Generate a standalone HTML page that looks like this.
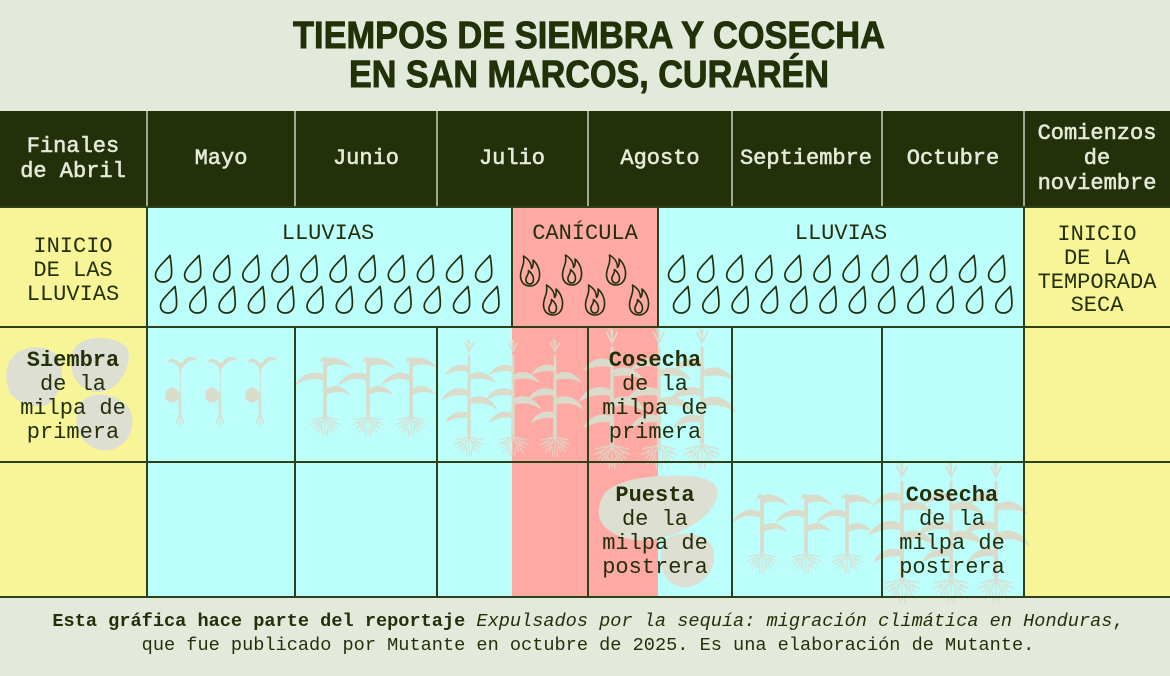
<!DOCTYPE html>
<html><head><meta charset="utf-8"><style>
html,body{margin:0;padding:0;background:#e3eadc;}
svg{display:block;}
</style></head><body>
<svg width="1170" height="676" viewBox="0 0 1170 676" xmlns="http://www.w3.org/2000/svg">
<defs>
  <path id="drop" d="M16,1.5 C10,8 1.5,15 1.5,21 C1.5,25.5 5,28 9,28 C13.5,28 17,25 17.5,20.5 C18,14 17,8 16,1.5 Z" fill="none" stroke="#233009" stroke-width="1.7" stroke-linejoin="round"/>
  <g id="flame" fill="none" stroke="#233009" stroke-width="1.6" stroke-linejoin="round">
    <path d="M10,32 C4,32 0.5,28 0.5,21.5 C0.5,15 5,11 3.5,2 C8.5,5 11.5,9.5 11.5,14.5 C13.5,12.5 13.5,9.5 13,6 C17.5,10 20,16 19.5,22 C19,28 15.5,32 10,32 Z"/>
    <path d="M10,30 C7,30 5.5,27.5 6,24.5 C6.5,21.5 9,20.5 8.5,16.5 C11.5,19 13.5,22 13.5,25 C13.5,28 12,30 10,30 Z"/>
  </g>
  <g id="roots" fill="none" stroke="#d9dbcb" stroke-width="1.2" opacity="0.8">
    <path d="M0,0 L-10,9 M0,0 L-6,17 M0,0 L0,20 M0,0 L6,17 M0,0 L10,9 M0,2 L-14,5 M0,2 L14,5 M-5,9 L-10,18 M5,9 L10,18 M-3,12 L-2,22 M3,12 L2,22 M0,4 L-12,13 M0,4 L12,13 M-8,6 L-15,10 M8,6 L15,10"/>
  </g>
  <g id="seed" fill="#d9dbcb">
    <path d="M-1,0 C-3,-15 2,-30 -1,-44 C-2,-48 -1,-50 0,-50 L2,-50 C1,-44 0,-30 1,-15 C1.5,-8 1,-4 1,0Z"/>
    <path d="M0,-48 C-4,-56 -10,-56 -13,-50 C-9,-52 -5,-51 -1,-45Z"/>
    <path d="M1,-48 C6,-58 14,-58 18,-52 C13,-54 7,-53 2,-44Z"/>
    <ellipse cx="-8" cy="-18" rx="7" ry="7.5"/>
    <path d="M0,0 L-4,11 M0,0 L0,13 M0,0 L4,11" fill="none" stroke="#d9dbcb" stroke-width="1.2"/>
  </g>
  <g id="young" fill="#d9dbcb">
    <path d="M-1.8,0 L-1.8,-50 C-2,-54 -1,-57 1,-57 L2,-50 L1.8,0Z"/>
    <path d="M-1,-56 C8,-60 20,-56 27,-46 C19,-51 10,-52 1,-48Z"/>
    <path d="M-1,-40 C-12,-46 -25,-40 -31,-28 C-22,-36 -12,-38 -1,-34Z"/>
    <path d="M1,-26 C10,-32 20,-28 25,-20 C17,-24 9,-24 1,-20Z"/>
    <path d="M-6,-52 C-4,-58 0,-60 1,-56 Z"/>
    <use href="#roots"/>
  </g>
  <g id="corn" fill="#d9dbcb">
    <path d="M-1.8,0 L-1.2,-80 L1.2,-80 L1.8,0Z"/>
    <path d="M0,-78 L-1,-95 L1,-95Z M0,-82 L-5,-92 L-4,-93 L0,-85Z M0,-82 L5,-92 L4,-93 L0,-85Z M0,-86 L-3,-96 L-2,-96Z"/>
    <path d="M0,-68 C-8,-73 -18,-70 -24,-60 C-16,-64 -8,-65 0,-63Z"/>
    <path d="M0,-60 C9,-66 20,-63 27,-52 C18,-57 9,-57 0,-55Z"/>
    <path d="M0,-44 C-10,-50 -22,-46 -28,-34 C-19,-40 -10,-41 0,-39Z"/>
    <path d="M0,-36 C10,-42 22,-38 29,-25 C19,-32 10,-33 0,-30Z"/>
    <path d="M0,-22 C-9,-26 -20,-22 -24,-12 C-16,-17 -8,-18 0,-17Z"/>
    <use href="#roots"/>
  </g>
</defs>

<rect x="0" y="0" width="1170" height="676" fill="#e3eadc"/>

<!-- Title -->
<g font-family="'Liberation Sans', sans-serif" font-weight="bold" font-size="38" fill="#223108" stroke="#223108" stroke-width="0.9">
  <text x="293" y="48" textLength="592" lengthAdjust="spacingAndGlyphs">TIEMPOS DE SIEMBRA Y COSECHA</text>
  <text x="349" y="87" textLength="480" lengthAdjust="spacingAndGlyphs">EN SAN MARCOS, CURARÉN</text>
</g>

<!-- Header -->
<rect x="0" y="111" width="1170" height="96" fill="#233009"/>
<g stroke="#c9d0c0" stroke-width="1.5">
  <line x1="147" y1="111" x2="147" y2="207"/>
  <line x1="295" y1="111" x2="295" y2="207"/>
  <line x1="437" y1="111" x2="437" y2="207"/>
  <line x1="588" y1="111" x2="588" y2="207"/>
  <line x1="732" y1="111" x2="732" y2="207"/>
  <line x1="882" y1="111" x2="882" y2="207"/>
  <line x1="1024" y1="111" x2="1024" y2="207"/>
</g>

<!-- Row backgrounds -->
<rect x="0" y="207" width="147" height="390" fill="#f8f598"/>
<rect x="147" y="207" width="365" height="390" fill="#bcfefc"/>
<rect x="512" y="207" width="146" height="390" fill="#fea9a4"/>
<rect x="658" y="207" width="366" height="390" fill="#bcfefc"/>
<rect x="1024" y="207" width="146" height="390" fill="#f8f598"/>

<!-- Blobs -->
<g fill="#dddfd2">
  <path d="M12,358 C22,344 48,344 58,356 C66,368 62,396 48,404 C34,411 12,402 8,388 C5,376 6,366 12,358Z"/>
  <path d="M76,346 C88,334 118,336 127,348 C133,360 124,382 108,390 C94,396 78,388 73,374 C70,364 70,354 76,346Z"/>
  <path d="M86,398 C100,390 124,396 131,412 C136,428 128,446 110,450 C94,452 80,442 77,426 C75,414 78,404 86,398Z"/>
  <path d="M603,496 C612,480 650,474 690,476 C712,478 722,486 716,500 C708,520 680,536 650,540 C624,543 600,530 599,515 C598,508 600,502 603,496Z"/>
  <path d="M668,538 C680,530 706,532 713,548 C718,564 708,582 690,587 C674,590 662,578 661,562 C660,552 662,544 668,538Z"/>
</g>

<!-- Plants row 2 -->
<use href="#seed" x="180" y="413"/>
<use href="#seed" x="220" y="413"/>
<use href="#seed" x="260" y="413"/>
<use href="#young" x="325" y="415"/>
<use href="#young" x="368" y="415"/>
<use href="#young" x="411" y="415"/>
<use href="#corn" x="469" y="435"/>
<use href="#corn" x="513" y="435"/>
<use href="#corn" x="555" y="435"/>
<g transform="translate(612,443) scale(1.2)"><use href="#corn"/></g>
<g transform="translate(659,443) scale(1.2)"><use href="#corn"/></g>
<g transform="translate(702,443) scale(1.2)"><use href="#corn"/></g>
<!-- Plants row 3 -->
<use href="#young" x="762" y="552"/>
<use href="#young" x="806" y="552"/>
<use href="#young" x="847" y="552"/>
<g transform="translate(902,577) scale(1.2)"><use href="#corn"/></g>
<g transform="translate(951,577) scale(1.2)"><use href="#corn"/></g>
<g transform="translate(996,577) scale(1.2)"><use href="#corn"/></g>

<!-- Drops -->
<g>
  <use href="#drop" x="154" y="254"/><use href="#drop" x="183.1" y="254"/><use href="#drop" x="212.2" y="254"/><use href="#drop" x="241.3" y="254"/><use href="#drop" x="270.4" y="254"/><use href="#drop" x="299.5" y="254"/><use href="#drop" x="328.6" y="254"/><use href="#drop" x="357.7" y="254"/><use href="#drop" x="386.8" y="254"/><use href="#drop" x="415.9" y="254"/><use href="#drop" x="445" y="254"/><use href="#drop" x="474.1" y="254"/>
  <use href="#drop" x="159" y="285"/><use href="#drop" x="188.3" y="285"/><use href="#drop" x="217.6" y="285"/><use href="#drop" x="246.9" y="285"/><use href="#drop" x="276.2" y="285"/><use href="#drop" x="305.5" y="285"/><use href="#drop" x="334.8" y="285"/><use href="#drop" x="364.1" y="285"/><use href="#drop" x="393.4" y="285"/><use href="#drop" x="422.7" y="285"/><use href="#drop" x="452" y="285"/><use href="#drop" x="481.3" y="285"/>
  <use href="#drop" x="667" y="254"/><use href="#drop" x="696.1" y="254"/><use href="#drop" x="725.2" y="254"/><use href="#drop" x="754.3" y="254"/><use href="#drop" x="783.4" y="254"/><use href="#drop" x="812.5" y="254"/><use href="#drop" x="841.6" y="254"/><use href="#drop" x="870.7" y="254"/><use href="#drop" x="899.8" y="254"/><use href="#drop" x="928.9" y="254"/><use href="#drop" x="958" y="254"/><use href="#drop" x="987.1" y="254"/>
  <use href="#drop" x="672" y="285"/><use href="#drop" x="701.3" y="285"/><use href="#drop" x="730.6" y="285"/><use href="#drop" x="759.9" y="285"/><use href="#drop" x="789.2" y="285"/><use href="#drop" x="818.5" y="285"/><use href="#drop" x="847.8" y="285"/><use href="#drop" x="877.1" y="285"/><use href="#drop" x="906.4" y="285"/><use href="#drop" x="935.7" y="285"/><use href="#drop" x="965" y="285"/><use href="#drop" x="994.3" y="285"/>
</g>
<!-- Flames -->
<use href="#flame" x="520" y="254"/>
<use href="#flame" x="543" y="283"/>
<use href="#flame" x="562" y="253"/>
<use href="#flame" x="585" y="283"/>
<use href="#flame" x="606" y="253"/>
<use href="#flame" x="629" y="283"/>

<!-- Grid lines -->
<g stroke="#2c4118" stroke-width="2">
  <line x1="0" y1="207" x2="1170" y2="207"/>
  <line x1="0" y1="327" x2="1170" y2="327"/>
  <line x1="0" y1="462" x2="1170" y2="462"/>
  <line x1="0" y1="597" x2="1170" y2="597"/>
  <line x1="147" y1="207" x2="147" y2="327"/>
  <line x1="512" y1="207" x2="512" y2="327"/>
  <line x1="658" y1="207" x2="658" y2="327"/>
  <line x1="1024" y1="207" x2="1024" y2="327"/>
  <line x1="147" y1="327" x2="147" y2="597"/>
  <line x1="295" y1="327" x2="295" y2="597"/>
  <line x1="437" y1="327" x2="437" y2="597"/>
  <line x1="588" y1="327" x2="588" y2="597"/>
  <line x1="732" y1="327" x2="732" y2="597"/>
  <line x1="882" y1="327" x2="882" y2="597"/>
  <line x1="1024" y1="327" x2="1024" y2="597"/>
</g>

<!-- Header text -->
<g font-family="'Liberation Mono', monospace" font-size="22" fill="#e3ead8" stroke="#e3ead8" stroke-width="0.6" text-anchor="middle">
  <text x="73" y="152">Finales</text>
  <text x="73" y="177">de Abril</text>
  <text x="221" y="164">Mayo</text>
  <text x="366" y="164">Junio</text>
  <text x="512" y="164">Julio</text>
  <text x="660" y="164">Agosto</text>
  <text x="806" y="164">Septiembre</text>
  <text x="953" y="164">Octubre</text>
  <text x="1097" y="139">Comienzos</text>
  <text x="1097" y="164">de</text>
  <text x="1097" y="189">noviembre</text>
</g>

<!-- Row 1 text -->
<g font-family="'Liberation Mono', monospace" font-size="22" fill="#233009" text-anchor="middle">
  <text x="73" y="252">INICIO</text>
  <text x="73" y="276">DE LAS</text>
  <text x="73" y="300">LLUVIAS</text>
  <text x="328" y="239">LLUVIAS</text>
  <text x="585" y="239">CANÍCULA</text>
  <text x="841" y="239">LLUVIAS</text>
  <text x="1097" y="240">INICIO</text>
  <text x="1097" y="264">DE LA</text>
  <text x="1097" y="288">TEMPORADA</text>
  <text x="1097" y="311">SECA</text>
</g>

<!-- Row 2/3 text -->
<g font-family="'Liberation Mono', monospace" font-size="22" fill="#233009" text-anchor="middle">
  <text x="73" y="366" font-weight="bold">Siembra</text>
  <text x="73" y="390">de la</text>
  <text x="73" y="414">milpa de</text>
  <text x="73" y="438">primera</text>
  <text x="655" y="366" font-weight="bold">Cosecha</text>
  <text x="655" y="390">de la</text>
  <text x="655" y="414">milpa de</text>
  <text x="655" y="438">primera</text>
  <text x="655" y="501" font-weight="bold">Puesta</text>
  <text x="655" y="525">de la</text>
  <text x="655" y="549">milpa de</text>
  <text x="655" y="573">postrera</text>
  <text x="952" y="501" font-weight="bold">Cosecha</text>
  <text x="952" y="525">de la</text>
  <text x="952" y="549">milpa de</text>
  <text x="952" y="573">postrera</text>
</g>

<!-- Footer -->
<g font-family="'Liberation Mono', monospace" font-size="18.6" fill="#233009" text-anchor="middle">
  <text x="588" y="626"><tspan font-weight="bold">Esta gráfica hace parte del reportaje </tspan><tspan font-style="italic">Expulsados por la sequía: migración climática en Honduras</tspan>,</text>
  <text x="588" y="650">que fue publicado por Mutante en octubre de 2025. Es una elaboración de Mutante.</text>
</g>
</svg>
</body></html>
